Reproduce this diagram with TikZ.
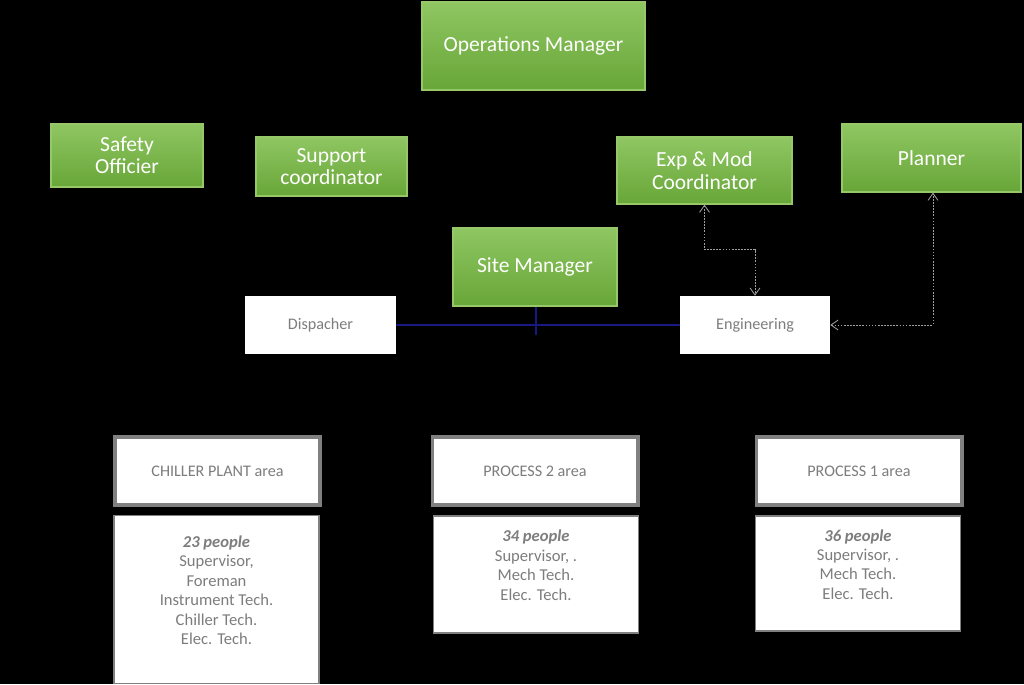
\documentclass[tikz,border=0pt]{standalone}
\usepackage{fontspec}
\setmainfont{Carlito}
\usetikzlibrary{arrows.meta,positioning}

\definecolor{greentop}{RGB}{143,198,98}
\definecolor{greenbot}{RGB}{104,166,56}
\definecolor{greenedge}{RGB}{150,200,105}
\definecolor{boxgray}{RGB}{128,128,128}
\definecolor{txtgray}{RGB}{125,125,125}
\definecolor{linkblue}{RGB}{24,24,130}

\begin{document}
\begin{tikzpicture}[x=0.025cm, y=-0.025cm,
    role/.style={rectangle, top color=greentop, bottom color=greenbot, draw=greenedge,
        line width=0.8pt, text=white, align=center, inner sep=2pt,
        font=\fontsize{15.3}{15.8}\selectfont},
    unit/.style={rectangle, fill=white, text=txtgray, minimum width=3.775cm,
        minimum height=1.45cm, font=\fontsize{11.5}{13}\selectfont},
    area/.style={rectangle, fill=white, draw=boxgray, line width=2.8pt, text=txtgray,
        minimum width=5.125cm, minimum height=1.7cm, font=\fontsize{11.5}{13}\selectfont},
    crew/.style={rectangle, fill=white, draw=boxgray, line width=1.2pt, minimum width=5.125cm},
    crewtxt/.style={text=txtgray, align=center, anchor=north, inner sep=0pt,
        font=\fontsize{11.8}{13.8}\selectfont},
    dotlink/.style={draw=gray!75, line width=0.6pt, dash pattern=on 1.2pt off 1pt,
        {Straight Barb[length=5pt,width=7pt]}-{Straight Barb[length=5pt,width=7pt]}}]

    % Background
    \fill[black] (0,0) rectangle (1024,684);

    % Management
    \node[role, minimum width=5.575cm, minimum height=2.2cm] (ops) at (533.5,46) {Operations Manager};
    \node[role, minimum width=3.8cm, minimum height=1.575cm] (safety) at (127,155.5) {Safety\\Officier};
    \node[role, minimum width=3.775cm, minimum height=1.475cm] (support) at (331.5,166.5) {Support\\coordinator};
    \node[role, minimum width=4.375cm, minimum height=1.675cm] (expmod) at (704.5,170.5) {Exp \& Mod\\Coordinator};
    \node[role, minimum width=4.475cm, minimum height=1.7cm] (planner) at (931.5,158) {Planner};
    \node[role, minimum width=4.1cm, minimum height=1.95cm] (site) at (535,267) {Site Manager};

    % Staff under the site manager
    \node[unit] (disp) at (320.5,325) {Dispacher};
    \node[unit, minimum width=3.75cm] (eng) at (755,325) {Engineering};
    \coordinate (hub) at (536,335);
    \draw[linkblue, line width=0.8pt] (disp.east) -- (eng.west);
    \draw[linkblue, line width=0.8pt] (site.south -| hub) -- (hub);

    % Dotted links to engineering
    \draw[dotlink] (expmod.south) -- ++(0,45) -| (eng.north);
    \draw[dotlink] (eng.east) -| (planner.south -| 933,0);

    % Areas
    \foreach \id/\cx/\lbl in {chiller/217.5/CHILLER PLANT area, ptwo/535/PROCESS 2 area, pone/859/PROCESS 1 area} {
        \node[area] (\id) at (\cx,471) {\lbl};
    }

    % Crews
    \node[crew, minimum height=4.2cm] (chillercrew) at (216.5,599.5) {};
    \node[crew, minimum height=2.925cm] (ptwocrew) at (536,574.5) {};
    \node[crew, minimum height=2.875cm] (ponecrew) at (858,573.5) {};

    \node[crewtxt, below=0.52cm of chillercrew.north] (chillertxt)
        {\textbf{\textit{23 people}}\\Supervisor,\\Foreman\\Instrument Tech.\\Chiller Tech.\\Elec. Tech.};
    \node[crewtxt, below=0.37cm of ptwocrew.north] (ptwotxt)
        {\textbf{\textit{34 people}}\\Supervisor, .\\Mech Tech.\\Elec. Tech.};
    \node[crewtxt, below=0.35cm of ponecrew.north] (ponetxt)
        {\textbf{\textit{36 people}}\\Supervisor, .\\Mech Tech.\\Elec. Tech.};
\end{tikzpicture}
\end{document}
